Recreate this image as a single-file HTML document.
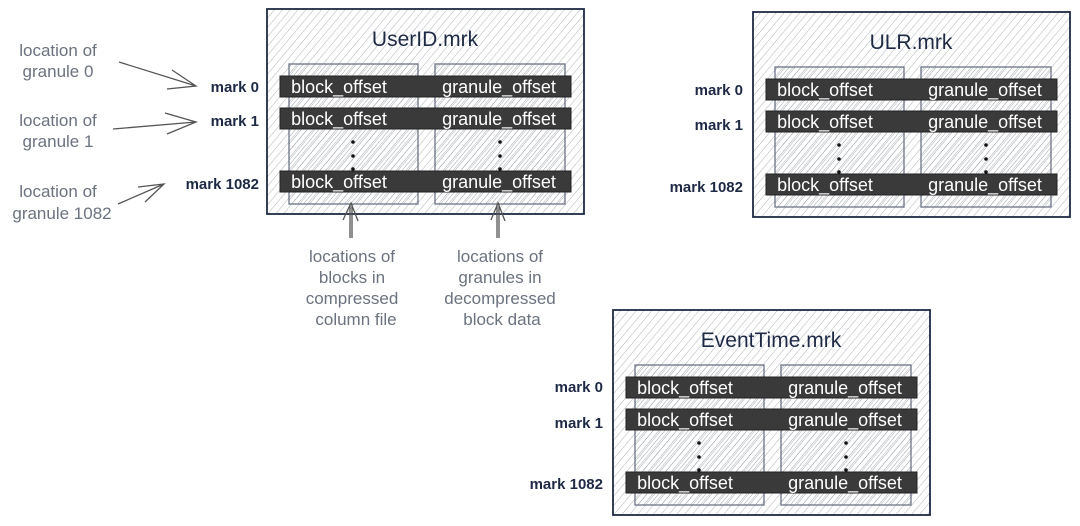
<!DOCTYPE html>
<html><head><meta charset="utf-8">
<style>
html,body{margin:0;padding:0;background:#fff;}
svg{display:block;}
text{font-family:"Liberation Sans",sans-serif;}
.t{font-size:21px;fill:#1e2a45;text-anchor:middle;}
.b{font-size:18px;fill:#fff;text-anchor:middle;}
.m{font-size:15px;font-weight:bold;fill:#1e2a45;text-anchor:end;}
.g{font-size:17px;fill:#6b7280;text-anchor:middle;}
</style></head><body>
<svg width="1080" height="526" viewBox="0 0 1080 526" xmlns="http://www.w3.org/2000/svg">
<defs>
<pattern id="h" width="6" height="6" patternUnits="userSpaceOnUse" patternTransform="rotate(40)">
<line x1="0" y1="0" x2="0" y2="6" stroke="#aeb3ba" stroke-width="1"/>
</pattern>
<pattern id="h2" width="4.5" height="4.5" patternUnits="userSpaceOnUse" patternTransform="rotate(40)">
<line x1="0" y1="0" x2="0" y2="4.5" stroke="#9ea3ab" stroke-width="1"/>
</pattern>
<g id="box">
<rect x="0" y="0" width="317" height="205" fill="url(#h)" stroke="#1e2a45" stroke-width="1.8"/>
<rect x="22" y="55" width="129" height="140" fill="url(#h2)" stroke="#6b7385" stroke-width="1.3"/>
<rect x="168" y="55" width="130" height="140" fill="url(#h2)" stroke="#6b7385" stroke-width="1.3"/>
<rect x="13" y="67" width="291" height="21" fill="#3a3a3a" stroke="#222" stroke-width="1"/>
<rect x="13" y="99" width="291" height="21" fill="#3a3a3a" stroke="#222" stroke-width="1"/>
<rect x="13" y="162" width="291" height="21" fill="#3a3a3a" stroke="#222" stroke-width="1"/>
<circle cx="86" cy="133" r="1.8" fill="#111"/><circle cx="86" cy="147" r="1.8" fill="#111"/><circle cx="86" cy="160" r="1.8" fill="#111"/>
<circle cx="233" cy="133" r="1.8" fill="#111"/><circle cx="233" cy="147" r="1.8" fill="#111"/><circle cx="233" cy="160" r="1.8" fill="#111"/>
</g>
</defs>

<!-- UserID -->
<g transform="translate(267,9)">
<use href="#box"/>
<text class="t" x="158" y="37">UserID.mrk</text>
<text class="b" x="72" y="84">block_offset</text><text class="b" x="232" y="84">granule_offset</text>
<text class="b" x="72" y="116">block_offset</text><text class="b" x="232" y="116">granule_offset</text>
<text class="b" x="72" y="179">block_offset</text><text class="b" x="232" y="179">granule_offset</text>
<text class="m" x="-8" y="83">mark 0</text>
<text class="m" x="-8" y="117">mark 1</text>
<text class="m" x="-8" y="180">mark 1082</text>
</g>

<!-- ULR -->
<g transform="translate(753,12)">
<use href="#box"/>
<text class="t" x="158" y="37">ULR.mrk</text>
<text class="b" x="72" y="84">block_offset</text><text class="b" x="232" y="84">granule_offset</text>
<text class="b" x="72" y="116">block_offset</text><text class="b" x="232" y="116">granule_offset</text>
<text class="b" x="72" y="179">block_offset</text><text class="b" x="232" y="179">granule_offset</text>
<text class="m" x="-10" y="83">mark 0</text>
<text class="m" x="-10" y="118">mark 1</text>
<text class="m" x="-10" y="180">mark 1082</text>
</g>

<!-- EventTime -->
<g transform="translate(613,310)">
<use href="#box"/>
<text class="t" x="158" y="37">EventTime.mrk</text>
<text class="b" x="72" y="84">block_offset</text><text class="b" x="232" y="84">granule_offset</text>
<text class="b" x="72" y="116">block_offset</text><text class="b" x="232" y="116">granule_offset</text>
<text class="b" x="72" y="179">block_offset</text><text class="b" x="232" y="179">granule_offset</text>
<text class="m" x="-10" y="82">mark 0</text>
<text class="m" x="-10" y="118">mark 1</text>
<text class="m" x="-10" y="179">mark 1082</text>
</g>

<!-- left annotations -->
<text class="g" x="58" y="56">location of</text>
<text class="g" x="58" y="77">granule 0</text>
<text class="g" x="58" y="126">location of</text>
<text class="g" x="58" y="147">granule 1</text>
<text class="g" x="58" y="197">location of</text>
<text class="g" x="62" y="219">granule 1082</text>
<g stroke="#555" stroke-width="1.3" fill="none">
<path d="M119 62 L196 86 M172 70 L196 86 L167 89"/>
<path d="M113 129 L196 122 M165 113 L196 122 L167 134"/>
<path d="M118 204 L164 184 M138 187 L164 184 L145 202"/>
<path d="M350 238 L350 204 M352 238 L352 204 M343 220 L351 203 L358 221"/>
<path d="M497 238 L497 204 M499 238 L499 204 M491 220 L498 203 L505 221"/>
</g>

<!-- bottom annotations -->
<text class="g" x="352" y="262">locations of</text>
<text class="g" x="352" y="283">blocks in</text>
<text class="g" x="352" y="304">compressed</text>
<text class="g" x="356" y="325">column file</text>
<text class="g" x="500" y="262">locations of</text>
<text class="g" x="500" y="283">granules in</text>
<text class="g" x="500" y="304">decompressed</text>
<text class="g" x="502" y="325">block data</text>
</svg>
</body></html>
